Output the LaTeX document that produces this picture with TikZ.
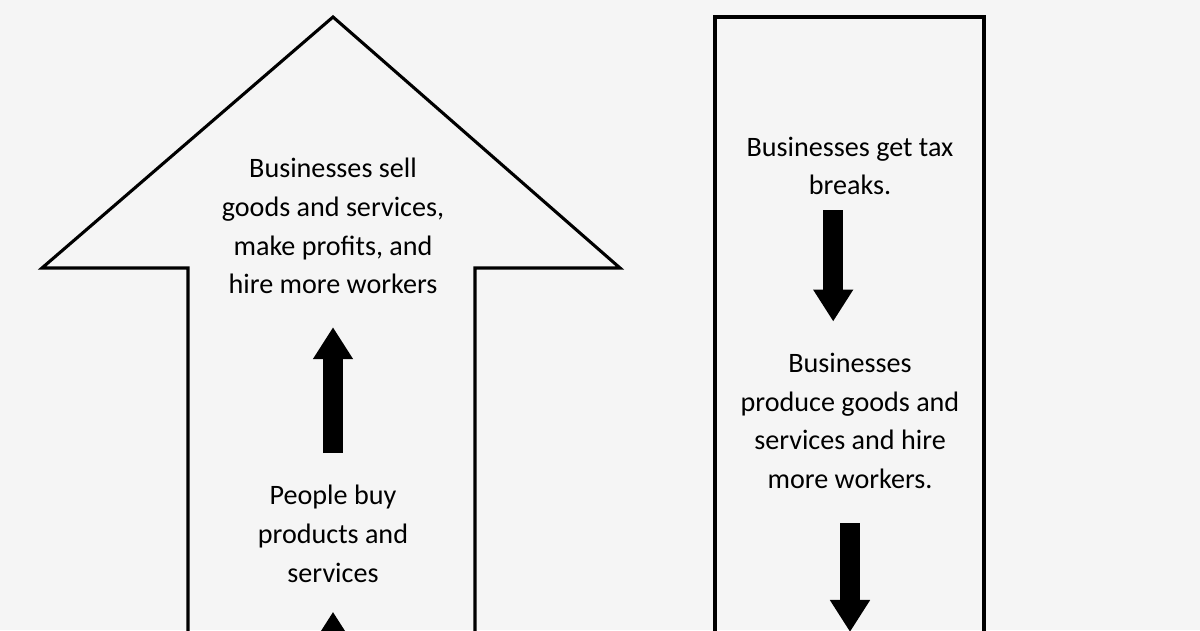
\documentclass[tikz,border=0pt]{standalone}
\usepackage{fontspec}
\setmainfont{Carlito}
\usetikzlibrary{arrows.meta}
\definecolor{paper}{RGB}{245,245,245}

\begin{document}
\begin{tikzpicture}[x=0.025cm, y=-0.025cm,
  outline/.style={line width=2.2pt, line join=miter},
  steptext/.style={align=center, inner sep=0pt, font=\fontsize{20}{27.6}\selectfont},
  blockarrow/.style={line width=0.5cm, -{Triangle[width=0.95cm, length=0.8cm]}}]

%Paper
\fill[paper] (0,0) rectangle (1200,630);
\useasboundingbox (0,0) rectangle (1200,630);
\clip (0,0) rectangle (1200,630);

%Big arrow
\draw[outline] (188,700) -- (188,268) -- (42,268) -- (333,17) -- (620,268) -- (475,268) -- (475,700);

%Column box
\draw[outline] (715,700) -- (715,17) -- (984,17) -- (984,700);

%% Left side
\node[steptext] (sell) at (333,226) {Businesses sell\\goods and services,\\make profits, and\\hire more workers};
\node[steptext] (buy) at (333,534) {People buy\\products and\\services};
\coordinate (below) at (333,700);

%% Right side
\node[steptext] (tax) at (850,166) {Businesses get tax\\breaks.};
\node[steptext] (produce) at (850,421) {Businesses\\produce goods and\\services and hire\\more workers.};
\coordinate (out) at (850,632);

% Thick arrows
\draw[blockarrow, shorten <=0.8cm, shorten >=0.82cm] (buy) -- (sell);
\draw[blockarrow, shorten >=0.72cm] (below) -- (buy);
\draw[blockarrow, shorten <=0.37cm, shorten >=0.78cm] ([xshift=-0.42cm]tax.south) -- ([xshift=-0.42cm]produce.north);
\draw[blockarrow, shorten <=0.85cm] (produce) -- (out);

\end{tikzpicture}
\end{document}
